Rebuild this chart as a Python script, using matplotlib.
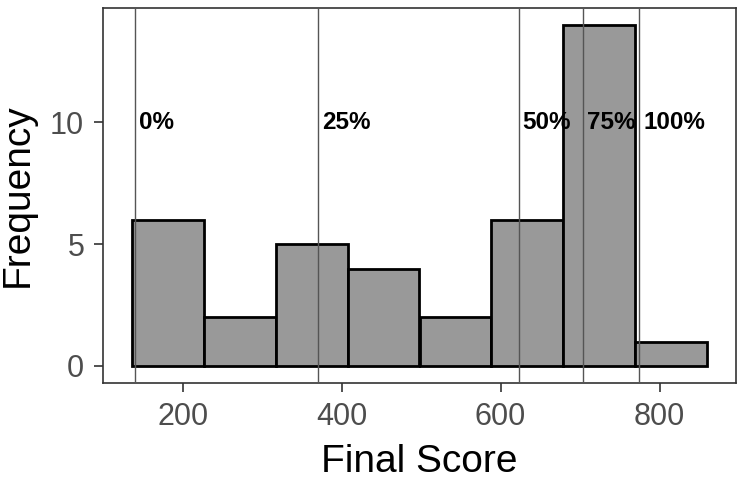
import numpy as np
import matplotlib.pyplot as plt

plt.rcParams["font.family"] = ["Liberation Sans", "DejaVu Sans"]

# histogram bins
bin_edges = [136, 226.5, 317, 407.5, 498, 588.5, 679, 769.5, 860]
counts = [6, 2, 5, 4, 2, 6, 14, 1]

# quantile lines
q_values = [139.8, 370, 622.6, 704, 774.3]
q_labels = ["0%", "25%", "50%", "75%", "100%"]

fig = plt.figure(figsize=(7.43, 4.90), dpi=100)
ax = fig.add_axes([103 / 743, (490 - 383) / 490, (736 - 103) / 743, (383 - 8) / 490])

edges = np.array(bin_edges)
ax.bar(edges[:-1], counts, width=np.diff(edges), align="edge",
       color="#999999", edgecolor="black", linewidth=2, zorder=2)

for q, lab in zip(q_values, q_labels):
    ax.axvline(q, color="#555555", linewidth=1, zorder=3)
    ax.annotate(lab, xy=(q, 10), xytext=(3, 0), textcoords="offset points",
                ha="left", va="center", fontsize=17.5, fontweight="bold",
                color="black", zorder=4)

span = edges[-1] - edges[0]
ax.set_xlim(edges[0] - 0.05 * span, edges[-1] + 0.05 * span)
ax.set_ylim(-0.7, 14.7)
ax.set_xticks([200, 400, 600, 800])
ax.set_yticks([0, 5, 10])

for s in ax.spines.values():
    s.set_color("#333333")
    s.set_linewidth(1.2)
ax.tick_params(colors="#333333", labelcolor="#4d4d4d", labelsize=22,
               length=6.5, width=1.2, pad=7)

ax.set_xlabel("Final Score", fontsize=28, labelpad=9)
ax.set_ylabel("Frequency", fontsize=28, labelpad=10)

fig.savefig("out.png", dpi=100)
